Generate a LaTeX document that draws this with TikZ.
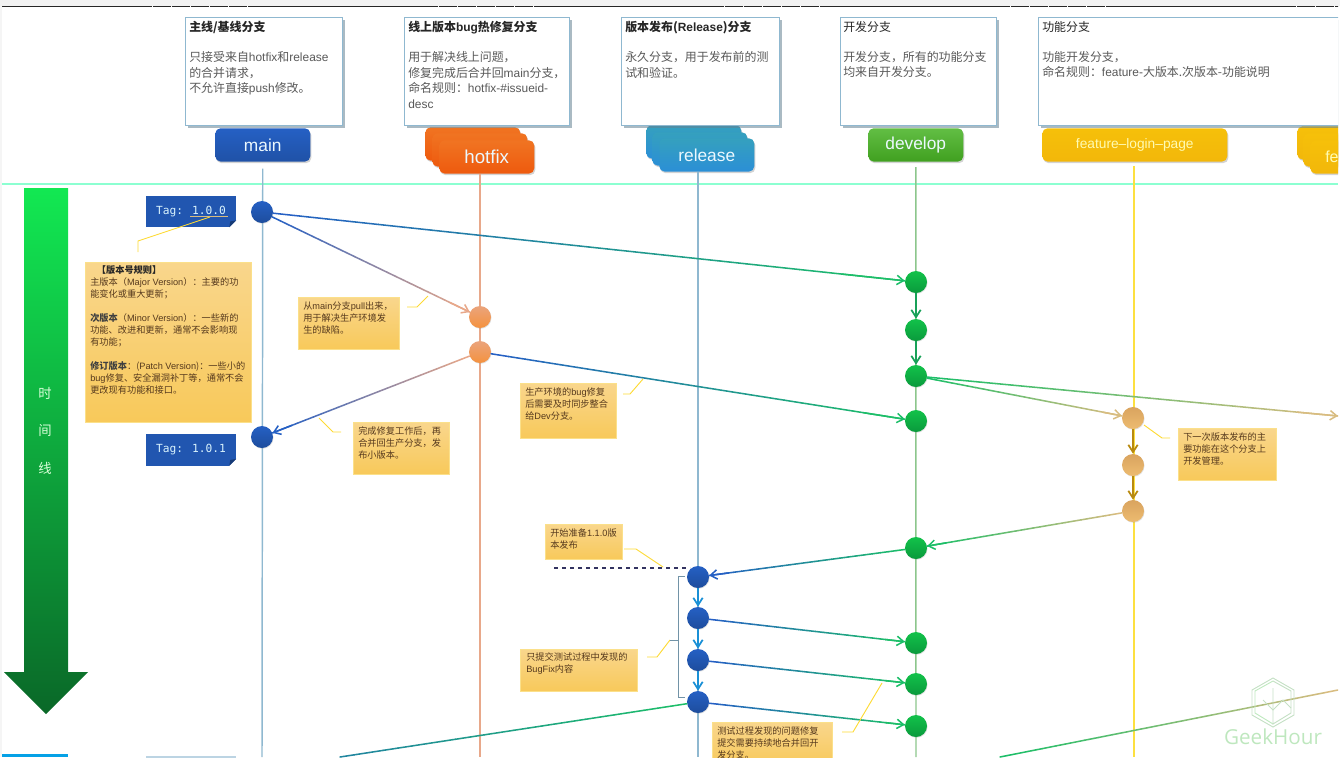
\documentclass[tikz,border=0pt]{standalone}
\usepackage{fontspec}
\setmainfont{Noto Sans CJK SC}
\newfontfamily\latfont{Liberation Sans}
\newfontfamily\tagfont{DejaVu Sans Mono}
\newfontfamily\markfont{Open Sans}
\usetikzlibrary{calc, shadows, arrows.meta}

\newcommand{\lat}[1]{{\latfont #1}}

\definecolor{mainblue}{HTML}{2560C4}
\definecolor{linegreen}{HTML}{1CBE68}
\definecolor{linesalmon}{HTML}{E8A88A}
\definecolor{linetan}{HTML}{D8BC80}
\definecolor{linegold}{HTML}{B88A10}
\definecolor{boxedge}{HTML}{8FB8D0}
\definecolor{notetop}{HTML}{F9D68C}
\definecolor{notebot}{HTML}{F8C95A}
\definecolor{noteedge}{HTML}{FBE08A}
\definecolor{devtop}{HTML}{12C24A}
\definecolor{devbot}{HTML}{0A9A3C}

\tikzset{
  px/.style={x=0.75pt, y=-0.75pt},
  infobox/.style={draw=boxedge, line width=0.8pt, fill=white, anchor=north west, minimum height=81pt,
    drop shadow={shadow xshift=2pt, shadow yshift=-2pt, fill=boxedge!70!black, opacity=0.55}},
  infotxt/.style={anchor=north west, align=left, inner sep=0pt, font=\fontsize{8.95pt}{11.7pt}\selectfont, text=black!65},
  branchbox/.style={rounded corners=4pt, minimum height=25pt, align=center, inner sep=0pt,
    font=\latfont\fontsize{13pt}{15pt}\selectfont, text=white!92!cyan,
    drop shadow={shadow xshift=0.8pt, shadow yshift=-1.2pt, fill=black!50, opacity=0.35}},
  mainbox/.style={branchbox, top color=mainblue, bottom color=mainblue!85!black, minimum width=71.25pt},
  hotbox/.style={branchbox, top color={rgb,255:red,240;green,116;blue,34}, bottom color={rgb,255:red,238;green,90;blue,14}, minimum width=71.25pt},
  relbox/.style={branchbox, top color={rgb,255:red,53;green,160;blue,190}, bottom color={rgb,255:red,43;green,143;blue,214}, minimum width=71.25pt},
  devbox/.style={branchbox, top color={rgb,255:red,98;green,190;blue,68}, bottom color={rgb,255:red,64;green,160;blue,32}, minimum width=71.25pt},
  featbox/.style={branchbox, top color={rgb,255:red,246;green,192;blue,10}, bottom color={rgb,255:red,242;green,183;blue,10}, text=yellow!30},
  commit/.style={circle, minimum size=16.5pt, inner sep=0pt,
    drop shadow={shadow xshift=0.4pt, shadow yshift=-0.6pt, fill=black!40, opacity=0.3}},
  maincommit/.style={commit, top color=mainblue, bottom color=mainblue!80!black},
  hotcommit/.style={commit, top color=linesalmon!90!orange, bottom color=orange!55!linesalmon},
  devcommit/.style={commit, top color=devtop, bottom color=devbot},
  featcommit/.style={commit, top color={rgb,255:red,217;green,164;blue,95}, bottom color={rgb,255:red,237;green,187;blue,112}},
  lifeline/.style={line width=1.1pt},
  thinlink/.style={line width=1.15pt, line cap=round},
  steplink/.style={line width=1.6pt, -{Straight Barb[length=5.5pt,width=7pt,line width=1.3pt]}},
  tiplink/.style={line width=1.15pt, -{Straight Barb[length=5pt,width=7pt]}},
  notebox/.style={draw=noteedge, line width=0.6pt, top color=notetop, bottom color=notebot, anchor=north west},
  notetxt/.style={anchor=north west, align=left, inner sep=0pt, font=\fontsize{6.9pt}{9pt}\selectfont, text=black!55!brown},
  leader/.style={draw=yellow!70!orange!80, line width=0.7pt},
  tagbox/.style={fill=mainblue!90!black, minimum width=67.5pt, minimum height=23.5pt, inner sep=0pt,
    font=\tagfont\fontsize{8.4pt}{10pt}\selectfont, text=white!85!cyan},
  timetxt/.style={font=\fontsize{10pt}{12pt}\selectfont, text=white!85!green, inner sep=0pt},
  logoline/.style={draw=green!30!gray!35, line width=0.7pt}
}

% thin line whose colour runs from #3 to #4
\newcommand{\gradline}[4]{
  \path (#1) -- (#2) coordinate[pos=0] (gs) coordinate[pos=1] (ge);
  \foreach \k in {0,...,23}{
    \pgfmathsetmacro\ka{\k/24}
    \pgfmathsetmacro\kb{(\k+1)/24}
    \pgfmathtruncatemacro\km{100-\k*100/23}
    \draw[thinlink, color=#3!\km!#4] ($(gs)!\ka!(ge)$) -- ($(gs)!\kb!(ge)$);
  }
}
\newcommand{\gradlink}[4]{
  \gradline{#1}{#2}{#3}{#4}
  \draw[tiplink, color=#4] ($(gs)!0.9!(ge)$) -- (ge);
}

\begin{document}
\begin{tikzpicture}[px]
  \useasboundingbox (0,0) rectangle (1340,765);
  \fill[black!5] (0,0) rectangle (1340,6);
  \fill[black!4] (0,6) rectangle (2,757);
  \begin{scope}
    \clip (2,6) rectangle (1338,757);
    \draw[black!85, line width=1pt, dash pattern=on 14pt off 0.3pt] (0,6.5) -- (1340,6.5);

    % branch names
    \node[mainbox, anchor=north west] (mainName) at (215,128) {main};
    \node[hotbox, anchor=north west] (hotBackA) at (425,127) {};
    \node[hotbox, anchor=north west] (hotBackB) at (432,133) {};
    \node[hotbox, anchor=north west, font=\latfont\fontsize{14pt}{16pt}\selectfont] (hotName) at (439,140) {hotfix};
    \node[relbox, anchor=north west] (relBackA) at (646,125) {};
    \node[relbox, anchor=north west] (relBackB) at (652,132) {};
    \node[relbox, anchor=north west] (relName) at (659,138) {release};
    \node[devbox, anchor=north west] (devName) at (868,128) {develop};
    \node[featbox, anchor=north west, minimum width=138.75pt, font=\latfont\fontsize{10.3pt}{12pt}\selectfont] (featName) at (1042,128) {feature–login–page};
    \node[featbox, anchor=north west, minimum width=71.25pt] (nextBackA) at (1297,126) {};
    \node[featbox, anchor=north west, minimum width=71.25pt] (nextBackB) at (1303,133) {};
    \node[featbox, anchor=north west, minimum width=71.25pt] (nextName) at (1310,140) {};
    \node[anchor=west, inner sep=0pt, font=\latfont\fontsize{12pt}{14pt}\selectfont, text=yellow!30] (nextTxt) at (1325,157) {fe};

    % branch descriptions
    \node[infobox, minimum width=117.75pt] (infoMain) at (185,17) {};
    \node[infotxt] (infoMainTxt) at (189,21) {{\bfseries\color{black!85}主线/基线分支}\\[10.7pt]只接受来自\lat{hotfix}和\lat{release}\\的合并请求，\\不允许直接\lat{push}修改。};
    \node[infobox, minimum width=123.75pt] (infoHot) at (404,17) {};
    \node[infotxt] (infoHotTxt) at (408,21) {{\bfseries\color{black!85}线上版本\lat{bug}热修复分支}\\[10.7pt]用于解决线上问题，\\修复完成后合并回\lat{main}分支，\\命名规则：\lat{hotfix-\#issueid-}\\\lat{desc}};
    \node[infobox, minimum width=118.5pt] (infoRel) at (621,17) {};
    \node[infotxt] (infoRelTxt) at (625,21) {{\bfseries\color{black!85}版本发布(\lat{Release})分支}\\[10.7pt]永久分支，用于发布前的测\\试和验证。};
    \node[infobox, minimum width=117pt] (infoDev) at (840,17) {};
    \node[infotxt] (infoDevTxt) at (843,21) {{\color{black!85}开发分支}\\[10.7pt]开发分支，所有的功能分支\\均来自开发分支。};
    \node[infobox, minimum width=240pt] (infoFeat) at (1038,17) {};
    \node[infotxt] (infoFeatTxt) at (1042,21) {{\color{black!85}功能分支}\\[10.7pt]功能开发分支，\\命名规则：\lat{feature-}大版本.次版本-功能说明};

    \draw[green!40!cyan!45!white, line width=0.8pt] (2,184) -- (1338,184);

    % time arrow
    \shade[top color={rgb,255:red,18;green,232;blue,82}, bottom color={rgb,255:red,10;green,104;blue,40}] (24,188) -- (68,188) -- (68,672) -- (88,672) -- (46,714) -- (4,672) -- (24,672) -- cycle;
    \node[timetxt] (timeA) at (45,393) {时};
    \node[timetxt] (timeB) at (45,431) {间};
    \node[timetxt] (timeC) at (45,468) {线};
    \fill[cyan!90!blue] (2,754) rectangle (68,757);
    \draw[boxedge!60, line width=0.8pt] (146,757) -- (236,757);

    % lifelines, end points below the page cut
    \coordinate (mainEnd) at (262,757);
    \coordinate (hotEnd) at (480,757);
    \coordinate (relEnd) at (698,757);
    \coordinate (devEnd) at (916,757);
    \coordinate (featEnd) at (1134,757);
    \draw[lifeline, boxedge, shorten <=5pt] (mainName.south) -- (mainEnd);
    \draw[lifeline, linesalmon] (hotName.south -| hotEnd) -- (hotEnd);
    \draw[lifeline, boxedge] (relName.south -| relEnd) -- (relEnd);
    \draw[lifeline, green!50!black!45, shorten <=4pt] (devName.south) -- (devEnd);
    \draw[lifeline, yellow!75!orange!75, shorten <=3pt] (featName.south -| featEnd) -- (featEnd);

    % commits
    \node[maincommit] (mainA) at (262,212) {};
    \node[maincommit] (mainB) at (262,437) {};
    \node[hotcommit] (hotA) at (480,317) {};
    \node[hotcommit] (hotB) at (480,352) {};
    \node[maincommit] (relA) at (698,577) {};
    \node[maincommit] (relB) at (698,618) {};
    \node[maincommit] (relC) at (698,660) {};
    \node[maincommit] (relD) at (698,702) {};
    \node[devcommit] (devA) at (916,282) {};
    \node[devcommit] (devB) at (916,330) {};
    \node[devcommit] (devC) at (916,376) {};
    \node[devcommit] (devD) at (916,421) {};
    \node[devcommit] (devE) at (916,548) {};
    \node[devcommit] (devF) at (916,643) {};
    \node[devcommit] (devG) at (916,684) {};
    \node[devcommit] (devH) at (916,726) {};
    \node[featcommit] (featA) at (1133,418) {};
    \node[featcommit] (featB) at (1133,465) {};
    \node[featcommit] (featC) at (1133,511) {};

    % free ends
    \coordinate (nextFeat) at (1338,416);
    \coordinate (leftOut) at (340,757);
    \coordinate (rightIn) at (1338,690);
    \coordinate (rightOut) at (1000,757);

    % merges and branches
    \gradlink{mainA}{devA}{mainblue}{linegreen}
    \gradlink{mainA}{hotA}{mainblue}{linesalmon}
    \gradlink{hotB}{mainB}{linesalmon}{mainblue}
    \gradlink{hotB}{devD}{mainblue}{linegreen}
    \gradlink{devC}{featA}{linegreen}{linetan}
    \gradlink{devC}{nextFeat}{linegreen}{linetan}
    \gradlink{featC}{devE}{linetan}{linegreen}
    \gradlink{devE}{relA}{linegreen}{mainblue}
    \gradlink{relB}{devF}{mainblue}{linegreen}
    \gradlink{relC}{devG}{mainblue}{linegreen}
    \gradlink{relD}{devH}{mainblue}{linegreen}
    \gradline{relD}{leftOut}{linegreen}{mainblue!60!linegreen}
    \gradline{rightIn}{rightOut}{linetan}{linegreen}

    \draw[steplink, linegreen!85!black] (devA) -- (devB);
    \draw[steplink, linegreen!85!black] (devB) -- (devC);
    \draw[steplink, linegold] (featA) -- (featB);
    \draw[steplink, linegold] (featB) -- (featC);
    \draw[steplink, mainblue!70!cyan] (relA) -- (relB);
    \draw[steplink, mainblue!70!cyan] (relB) -- (relC);
    \draw[steplink, mainblue!70!cyan] (relC) -- (relD);

    % tags
    \node[tagbox] (tagA) at (191,211.5) {Tag: 1.0.0};
    \fill[white] (tagA.south east) -- ($(tagA.south east)+(0,-7)$) -- ($(tagA.south east)+(-7,0)$) -- cycle;
    \fill[mainblue!60!black] ($(tagA.south east)+(0,-7)$) -- ($(tagA.south east)+(-7,0)$) -- ($(tagA.south east)+(-6,-6)$) -- cycle;
    \node[tagbox] (tagB) at (191,450) {Tag: 1.0.1};
    \fill[white] (tagB.south east) -- ($(tagB.south east)+(0,-7)$) -- ($(tagB.south east)+(-7,0)$) -- cycle;
    \fill[mainblue!60!black] ($(tagB.south east)+(0,-7)$) -- ($(tagB.south east)+(-7,0)$) -- ($(tagB.south east)+(-6,-6)$) -- cycle;
    \draw[linetan, line width=0.7pt] (190,216) -- (228,216);

    % notes
    \node[notebox, minimum width=124.5pt, minimum height=120pt] (noteVer) at (85,262) {};
    \node[notetxt] (noteVerTxt) at (90,265) {\hspace{5pt}{\bfseries\color{black!85}【版本号规则】}\\主版本（\lat{Major Version}）：主要的功\\能变化或重大更新；\\[9pt]{\bfseries\color{black!75}次版本}（\lat{Minor Version}）：一些新的\\功能、改进和更新，通常不会影响现\\有功能；\\[9pt]{\bfseries\color{black!75}修订版本}：(\lat{Patch Version})：一些小的\\\lat{bug}修复、安全漏洞补丁等，通常不会\\更改现有功能和接口。};
    \node[notebox, minimum width=75.75pt, minimum height=39pt] (noteFrom) at (298,297) {};
    \node[notetxt] (noteFromTxt) at (303,301) {从\lat{main}分支\lat{pull}出来，\\用于解决生产环境发\\生的缺陷。};
    \node[notebox, minimum width=72pt, minimum height=39pt] (noteBack) at (353,422) {};
    \node[notetxt] (noteBackTxt) at (358,426) {完成修复工作后，再\\合并回生产分支，发\\布小版本。};
    \node[notebox, minimum width=72pt, minimum height=41.25pt] (noteSync) at (520,383) {};
    \node[notetxt] (noteSyncTxt) at (525,387) {生产环境的\lat{bug}修复\\后需要及时同步整合\\给\lat{Dev}分支。};
    \node[notebox, minimum width=57.75pt, minimum height=26.25pt] (noteStart) at (545,524) {};
    \node[notetxt] (noteStartTxt) at (550,528) {开始准备\lat{1.1.0}版\\本发布};
    \node[notebox, minimum width=87.75pt, minimum height=31.5pt] (noteFix) at (520,649) {};
    \node[notetxt] (noteFixTxt) at (526,652) {只提交测试过程中发现的\\\lat{BugFix}内容};
    \node[notebox, minimum width=90pt, minimum height=33pt] (noteMerge) at (712,722) {};
    \node[notetxt] (noteMergeTxt) at (717,726) {测试过程发现的问题修复\\提交需要持续地合并回开\\发分支。};
    \node[notebox, minimum width=73.5pt, minimum height=39pt] (noteNext) at (1178,428) {};
    \node[notetxt] (noteNextTxt) at (1183,432) {下一次版本发布的主\\要功能在这个分支上\\开发管理。};

    % leaders
    \coordinate (verA) at (138,252); \coordinate (verB) at (138,241); \coordinate (verC) at (210,217);
    \coordinate (fromA) at (407,307); \coordinate (fromB) at (417,307); \coordinate (fromC) at (428,296);
    \coordinate (backA) at (341,432); \coordinate (backB) at (333,432); \coordinate (backC) at (319,418);
    \coordinate (syncA) at (623,394); \coordinate (syncB) at (630,394); \coordinate (syncC) at (643,379);
    \coordinate (startA) at (624,549); \coordinate (startB) at (636,549); \coordinate (startC) at (663,567);
    \coordinate (fixA) at (647,657); \coordinate (fixB) at (657,657); \coordinate (fixC) at (670,640);
    \coordinate (mergeA) at (842,732); \coordinate (mergeB) at (853,732); \coordinate (mergeC) at (882,683);
    \coordinate (nextA) at (1170,438); \coordinate (nextB) at (1162,438); \coordinate (nextC) at (1144,425);
    \foreach \lead in {ver, from, back, sync, start, fix, merge, next}
      \draw[leader] (\lead A) -- (\lead B) -- (\lead C);

    % release bracket and cut line
    \coordinate (braceA) at (685,576); \coordinate (braceB) at (678,576);
    \coordinate (braceC) at (678,697); \coordinate (braceD) at (685,697);
    \draw[boxedge!80!black, line width=0.7pt] (braceA) -- (braceB) -- (braceC) -- (braceD);
    \draw[boxedge!80!black, line width=0.7pt] (fixC) -- (braceB |- fixC);
    \coordinate (cutA) at (554,568); \coordinate (cutB) at (690,568);
    \draw[blue!30!black!60!gray, line width=0.8pt, dashed] (cutA) -- (cutB);

    % logo
    \draw[logoline] (1273,678) -- (1294,690) -- (1294,715) -- (1273,727) -- (1252,715) -- (1252,690) -- cycle;
    \draw[logoline, draw=black!35!green!25!white] (1273,681) -- (1255,691) -- (1255,713) -- (1273,724);
    \draw[logoline] (1273,681) -- (1291,691) -- (1291,713) -- (1273,724) -- (1273,688);
    \draw[logoline] (1263,700) -- (1273,710) -- (1283,700) -- (1291,708);
    \node[inner sep=0pt, font=\markfont\fontsize{15.5pt}{18pt}\selectfont, text=green!45!gray!35] (markTxt) at (1273,737) {GeekHour};
  \end{scope}
\end{tikzpicture}
\end{document}
